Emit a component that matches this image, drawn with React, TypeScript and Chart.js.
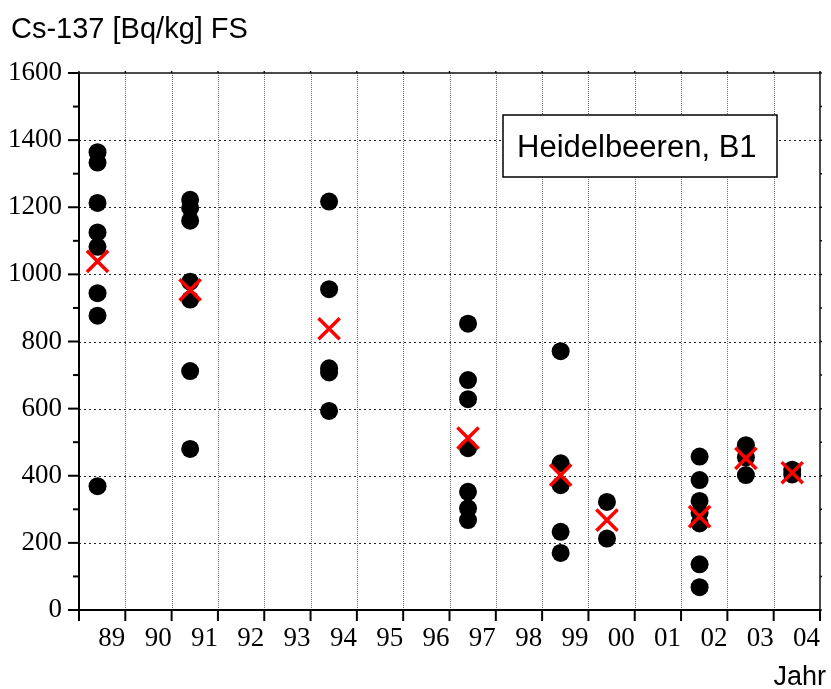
import React, { useEffect, useRef } from "react";
import { Chart, registerables } from "chart.js";

Chart.register(...registerables);

// ---- data ----
const tickLabels = ["89", "90", "91", "92", "93", "94", "95", "96", "97", "98", "99", "00", "01", "02", "03", "04"];
const xMin = 88;
const xMax = 104;

const columnX = [88.4, 90.4, 93.4, 96.4, 98.4, 99.4, 101.4, 102.4, 103.4];

const samples1989 = [1364, 1333, 1213, 1125, 1082, 944, 877, 369];
const samples1991 = [1222, 1198, 1160, 978, 925, 712, 480];
const samples1994 = [1217, 956, 720, 708, 593];
const samples1997 = [853, 685, 628, 482, 352, 303, 268];
const samples1999 = [771, 437, 372, 233, 170];
const samples2000 = [322, 213];
const samples2002 = [457, 387, 325, 290, 258, 136, 68];
const samples2003 = [491, 455, 402];
const samples2004 = [418, 404];

const sampleColumns = [
  samples1989, samples1991, samples1994, samples1997, samples1999,
  samples2000, samples2002, samples2003, samples2004,
];

const meanValues = [1039, 954, 838, 512, 402, 268, 278, 452, 409];

const titleText = "Cs-137 [Bq/kg] FS";
const xAxisText = "Jahr";
const legendText = "Heidelbeeren, B1";

const SANS = '"Liberation Sans", Arial, sans-serif';
const SERIF = '"Liberation Serif", "Times New Roman", serif';

const framePlugin = {
  id: "frame",
  beforeDatasetsDraw(chart: any) {
    const { ctx, chartArea, scales } = chart;
    const { left, right, top, bottom } = chartArea;
    const x = scales.x;
    const y = scales.y;
    ctx.save();

    // vertical dotted grid
    ctx.strokeStyle = "#6a6a6a";
    ctx.lineWidth = 1;
    ctx.setLineDash([1, 1]);
    x.ticks.forEach((t: any) => {
      if (t.value <= xMin || t.value >= xMax) return;
      const px = Math.round(x.getPixelForValue(t.value)) + 0.5;
      ctx.beginPath();
      ctx.moveTo(px, top);
      ctx.lineTo(px, bottom);
      ctx.stroke();
    });

    // horizontal dotted grid
    ctx.strokeStyle = "#222";
    ctx.setLineDash([2, 3]);
    y.ticks.forEach((t: any) => {
      if (t.value % 200 !== 0 || t.value <= 0 || t.value >= 1600) return;
      const py = Math.round(y.getPixelForValue(t.value)) + 0.5;
      ctx.beginPath();
      ctx.moveTo(left, py);
      ctx.lineTo(right, py);
      ctx.stroke();
    });
    ctx.setLineDash([]);

    // top & right thin frame
    ctx.strokeStyle = "#111";
    ctx.lineWidth = 1.5;
    ctx.beginPath();
    ctx.moveTo(left, top);
    ctx.lineTo(right, top);
    ctx.lineTo(right, bottom);
    ctx.stroke();

    // small ticks on top / right
    ctx.lineWidth = 1.5;
    x.ticks.forEach((t: any) => {
      const px = x.getPixelForValue(t.value);
      ctx.beginPath();
      ctx.moveTo(px, top);
      ctx.lineTo(px, top - 2);
      ctx.stroke();
    });
    y.ticks.forEach((t: any) => {
      const py = y.getPixelForValue(t.value);
      ctx.beginPath();
      ctx.moveTo(right, py);
      ctx.lineTo(right + 2, py);
      ctx.stroke();
    });

    // left & bottom axes
    ctx.strokeStyle = "#000";
    ctx.lineWidth = 2;
    ctx.beginPath();
    ctx.moveTo(left, top);
    ctx.lineTo(left, bottom);
    ctx.lineTo(right, bottom);
    ctx.stroke();

    // bottom ticks
    x.ticks.forEach((t: any) => {
      const px = x.getPixelForValue(t.value);
      ctx.beginPath();
      ctx.moveTo(px, bottom);
      ctx.lineTo(px, bottom + 11);
      ctx.stroke();
    });
    // left ticks
    y.ticks.forEach((t: any) => {
      const py = y.getPixelForValue(t.value);
      const len = t.value % 200 === 0 ? 11 : 6;
      ctx.beginPath();
      ctx.moveTo(left, py);
      ctx.lineTo(left - len, py);
      ctx.stroke();
    });

    // legend box
    const bx = left + 424;
    const by = top + 42;
    const bw = 274;
    const bh = 62;
    ctx.fillStyle = "#fff";
    ctx.fillRect(bx, by, bw, bh);
    ctx.strokeStyle = "#000";
    ctx.lineWidth = 1.5;
    ctx.strokeRect(bx, by, bw, bh);
    ctx.fillStyle = "#000";
    ctx.font = `31px ${SANS}`;
    ctx.textAlign = "left";
    ctx.textBaseline = "alphabetic";
    ctx.fillText(legendText, bx + 14, by + 42);

    ctx.restore();
  },
  afterDraw(chart: any) {
    const { ctx, chartArea } = chart;
    ctx.save();
    ctx.fillStyle = "#000";
    ctx.textBaseline = "alphabetic";
    ctx.font = `29px ${SANS}`;
    ctx.textAlign = "left";
    ctx.fillText(titleText, 11, 38);
    ctx.font = `27px ${SANS}`;
    ctx.textAlign = "right";
    ctx.fillText(xAxisText, chartArea.right + 6, 685);
    ctx.restore();
  },
};

export default function App() {
  const canvasRef = useRef<HTMLCanvasElement | null>(null);

  useEffect(() => {
    document.body.style.margin = "0";
    const canvas = canvasRef.current;
    if (!canvas) return;

    const pointData: { x: number; y: number }[] = [];
    sampleColumns.forEach((col, i) => {
      col.forEach((v) => pointData.push({ x: columnX[i], y: v }));
    });
    const meanData = meanValues.map((v, i) => ({ x: columnX[i], y: v }));

    const chart = new Chart(canvas, {
      type: "scatter",
      data: {
        datasets: [
          {
            label: "Mittelwert",
            data: meanData,
            pointStyle: "crossRot",
            pointRadius: 15,
            pointBorderWidth: 3.5,
            borderColor: "#ff0000",
            backgroundColor: "#ff0000",
            order: 0,
            clip: false,
          },
          {
            label: "Einzelwerte",
            data: pointData,
            pointStyle: "circle",
            pointRadius: 9,
            pointBorderWidth: 0,
            borderColor: "#000",
            backgroundColor: "#000",
            order: 1,
            clip: false,
          },
        ],
      },
      options: {
        animation: false,
        responsive: false,
        maintainAspectRatio: false,
        events: [],
        layout: { autoPadding: false, padding: { top: 73, right: 11, left: 0, bottom: 0 } },
        plugins: {
          legend: { display: false },
          tooltip: { enabled: false },
          title: { display: false },
        },
        scales: {
          x: {
            type: "linear",
            min: xMin,
            max: xMax,
            afterFit: (s: any) => {
              s.height = 79;
            },
            ticks: {
              stepSize: 1,
              autoSkip: false,
              maxRotation: 0,
              minRotation: 0,
              align: "end",
              padding: 2,
              color: "#000",
              font: { family: SERIF, size: 27 },
              callback: (v: any) => {
                const idx = Number(v) - xMin - 1;
                return idx >= 0 && idx < tickLabels.length ? tickLabels[idx] : "";
              },
            },
            grid: { color: "transparent", tickColor: "transparent", tickLength: 11 },
            border: { display: false },
          },
          y: {
            type: "linear",
            min: 0,
            max: 1600,
            afterFit: (s: any) => {
              s.width = 79;
            },
            ticks: {
              stepSize: 100,
              autoSkip: false,
              padding: 6,
              color: "#000",
              font: { family: SERIF, size: 27 },
              callback: (v: any) => (Number(v) % 200 === 0 ? String(v) : ""),
            },
            grid: { color: "transparent", tickColor: "transparent", tickLength: 11 },
            border: { display: false },
          },
        },
      } as any,
      plugins: [framePlugin],
    });

    return () => chart.destroy();
  }, []);

  return (
    <div style={{ position: "absolute", left: 0, top: 0, width: 831, height: 689, background: "#fff" }}>
      <canvas ref={canvasRef} width={831} height={689} style={{ width: 831, height: 689, display: "block" }} />
    </div>
  );
}
